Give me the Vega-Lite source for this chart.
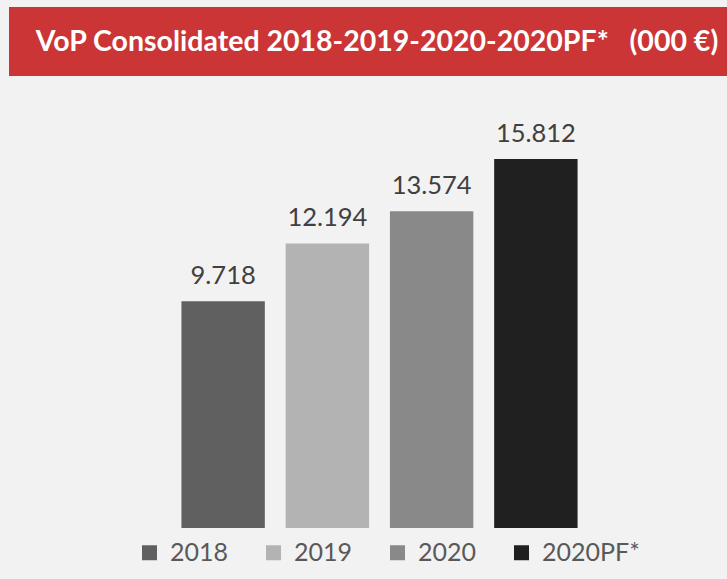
{
  "$schema": "https://vega.github.io/schema/vega-lite/v6.json",
  "background": "#f2f2f2",
  "padding": {"left": 9, "top": 7, "right": 0, "bottom": 51},
  "spacing": 32,
  "config": {
    "view": {"stroke": null},
    "font": "Lato",
    "locale": {"number": {"decimal": ",", "thousands": ".", "grouping": [3], "currency": ["", " €"]}}
  },
  "datasets": {
    "vals": [
      {"year": "2018", "value": 9718},
      {"year": "2019", "value": 12194},
      {"year": "2020", "value": 13574},
      {"year": "2020PF*", "value": 15812}
    ],
    "banner": [
      {"t": "VoP Consolidated 2018-2019-2020-2020PF*\u00a0\u00a0 (000 €)"}
    ]
  },
  "vconcat": [
    {
      "data": {"name": "banner"},
      "width": 718,
      "height": 69,
      "view": {"fill": "#cb3535", "stroke": null},
      "mark": {"type": "text", "color": "#ffffff", "font": "Lato", "fontWeight": "bold", "fontSize": 28.5, "dx": 9, "baseline": "middle"},
      "encoding": {"text": {"field": "t", "type": "nominal"}}
    },
    {
      "data": {"name": "vals"},
      "width": 718,
      "height": 420,
      "encoding": {
        "x": {
          "field": "year", "type": "nominal", "sort": null, "axis": null,
          "scale": {"paddingInner": 0.2, "paddingOuter": 0.1, "range": [162, 579]}
        },
        "y": {
          "field": "value", "type": "quantitative", "axis": null,
          "scale": {"domain": [0, 18000], "nice": false}
        }
      },
      "layer": [
        {
          "mark": {"type": "bar"},
          "encoding": {
            "color": {
              "field": "year", "type": "nominal", "sort": null,
              "scale": {"domain": ["2018", "2019", "2020", "2020PF*"], "range": ["#606060", "#b3b3b3", "#898989", "#202020"]},
              "legend": {
                "orient": "none", "legendX": 128, "legendY": 533, "direction": "horizontal",
                "title": null, "symbolType": "square", "symbolSize": 225, "symbolStrokeWidth": 0,
                "labelFontSize": 25, "labelColor": "#595959", "labelFont": "Lato",
                "columnPadding": 32, "labelOffset": 8
              }
            }
          }
        },
        {
          "mark": {"type": "text", "baseline": "alphabetic", "dy": -17, "fontSize": 25.5, "color": "#404040", "font": "Lato"},
          "encoding": {"text": {"field": "value", "type": "quantitative", "format": ",.0f"}}
        }
      ]
    }
  ]
}
